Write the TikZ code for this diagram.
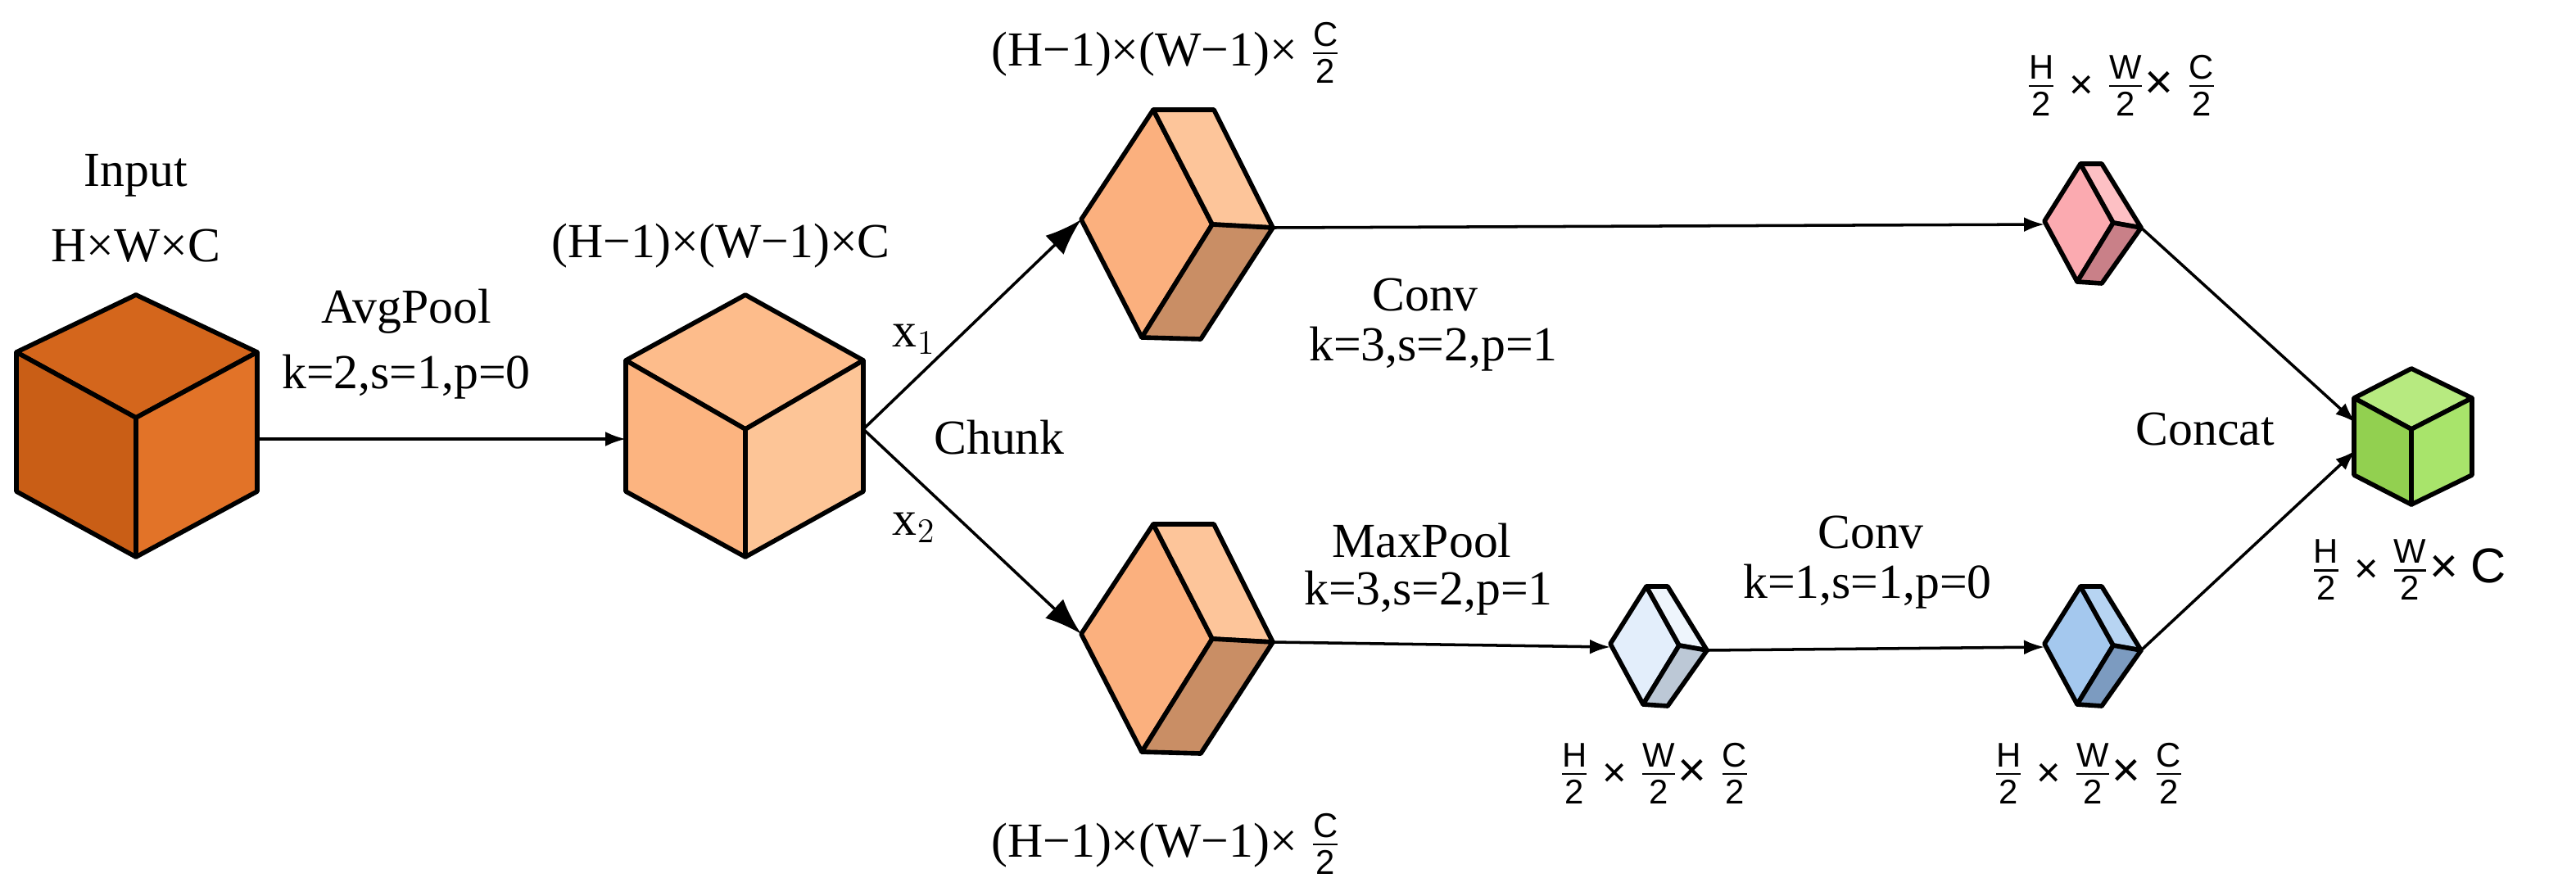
\documentclass[tikz,border=0pt]{standalone}
\usepackage{amsmath}
\usepackage{fontspec}
\setmainfont{Liberation Serif}
\newfontfamily\fr{Liberation Sans}
\usetikzlibrary{arrows.meta}
\newcommand{\fs}[1]{\ensuremath{\frac{\text{\fr #1}}{\text{\fr 2}}}}
\tikzset{
  face/.style={draw=black,line width=1.6pt,line join=round},
  lbl/.style={font=\fontsize{17}{20}\selectfont,inner sep=1pt},
  arr/.style={-{Latex[length=0.25cm,width=0.18cm]},line width=1pt},
  bigarr/.style={-{Latex[length=0.45cm,width=0.32cm]},line width=1pt},
  ln/.style={line width=1pt}
}
% cube: #1 top, #2 UL, #3 UR, #4 centre, #5 LL, #6 bottom, #7 LR, colours #8 top, #9 left, #10 right
\newcommand{\mycube}[7]{%
  \fill[#5] #1 -- #2 -- #3 -- #4 -- cycle;
  \filldraw[face,fill=#6] #2 -- #3 -- ++(0,0) ;}
\begin{document}
\begin{tikzpicture}[x=0.02cm,y=-0.02cm]
\useasboundingbox (0,0) rectangle (1572.5,546.5);
% Input cube
\filldraw[face,fill=orange!0!black!0,fill={rgb,255:red,212;green,102;blue,28}] (83,180)--(10,215)--(83,255)--(157,215)--cycle;
\filldraw[face,fill={rgb,255:red,201;green,94;blue,22}] (10,215)--(83,255)--(83,340)--(10,300)--cycle;
\filldraw[face,fill={rgb,255:red,226;green,115;blue,40}] (157,215)--(83,255)--(83,340)--(157,300)--cycle;
\coordinate (in) at (157,268);
% cube 2
\filldraw[face,fill={rgb,255:red,253;green,188;blue,139}] (455,180)--(382,220)--(455,262)--(527,220)--cycle;
\filldraw[face,fill={rgb,255:red,252;green,180;blue,128}] (382,220)--(455,262)--(455,340)--(382,300)--cycle;
\filldraw[face,fill={rgb,255:red,253;green,197;blue,151}] (527,220)--(455,262)--(455,340)--(527,300)--cycle;
\coordinate (c2l) at (382,268);
\coordinate (c2r) at (527,262);
% thin boxes
\foreach \dy/\nm in {0/u,253/d}{
\begin{scope}[yshift=-\dy*0.02cm]
\filldraw[face,fill={rgb,255:red,251;green,176;blue,126}] (704,67)--(740,137)--(697,206)--(660,134)--cycle;
\filldraw[face,fill={rgb,255:red,253;green,197;blue,154}] (704,67)--(741,67)--(777,139)--(740,137)--cycle;
\filldraw[face,fill={rgb,255:red,201;green,142;blue,101}] (740,137)--(777,139)--(733,207)--(697,206)--cycle;
\coordinate (\nm l) at (660,134);
\coordinate (\nm r) at (777,139);
\end{scope}}
% small boxes: pink, light blue, blue
\foreach \sx/\sy/\cf/\ct/\cb/\nm in {265/-258/{251,170,176}/{253,192,196}/{201,128,136}/p,0/0/{227,238,251}/{238,245,252}/{188,200,214}/a,265/0/{164,200,238}/{183,212,242}/{124,155,192}/b}{
\begin{scope}[xshift=\sx*0.02cm,yshift=-\sy*0.02cm]
\definecolor{cf}{RGB}{\cf}\definecolor{ct}{RGB}{\ct}\definecolor{cb}{RGB}{\cb}
\filldraw[face,fill=cf] (1005,358)--(1025,394)--(1003,430)--(983,393)--cycle;
\filldraw[face,fill=ct] (1005,358)--(1018,358)--(1042,397)--(1025,394)--cycle;
\filldraw[face,fill=cb] (1025,394)--(1042,397)--(1018,431)--(1003,430)--cycle;
\coordinate (\nm l) at (983,395);
\coordinate (\nm r) at (1042,397);
\end{scope}}
% green cube
\filldraw[face,fill={rgb,255:red,183;green,234;blue,128}] (1472,225)--(1437,243)--(1472,262)--(1509,243)--cycle;
\filldraw[face,fill={rgb,255:red,146;green,208;blue,80}] (1437,243)--(1472,262)--(1472,308)--(1437,290)--cycle;
\filldraw[face,fill={rgb,255:red,168;green,228;blue,107}] (1509,243)--(1472,262)--(1472,308)--(1509,290)--cycle;
\coordinate (g1) at (1438,258);
\coordinate (g2) at (1438,275);
% connectors
\draw[arr] (in) -- (c2l);
\draw[bigarr] (c2r) -- (ul);
\draw[bigarr] (c2r) -- (dl);
\draw[arr] (ur) -- (pl);
\draw[arr] (dr) -- (al);
\draw[arr] (ar) -- (bl);
\draw[arr] (pr) -- (g1);
\draw[arr] (br) -- (g2);
% labels
\node[lbl] (t1) at (83,107) {Input};
\node[lbl] (t2) at (83,150) {H×W×C};
\node[lbl] (t3) at (248,190) {AvgPool};
\node[lbl] (t4) at (248,230) {k=2,s=1,p=0};
\node[lbl] (t5) at (440,150) {(H−1)×(W−1)×C};
\node[lbl] (t6) at (558,207) {x$_1$};
\node[lbl] (t7) at (558,322) {x$_2$};
\node[lbl] (t8) at (610,267) {Chunk};
\node[lbl] (t9) at (712,32) {(H−1)×(W−1)× \fs{C}};
\node[lbl] (t10) at (712,515) {(H−1)×(W−1)× \fs{C}};
\node[lbl] (t11) at (870,180) {Conv};
\node[lbl] (t12) at (875,213) {k=3,s=2,p=1};
\node[lbl] (t13) at (868,330) {MaxPool};
\node[lbl] (t14) at (872,362) {k=3,s=2,p=1};
\node[lbl] (t15) at (1142,325) {Conv};
\node[lbl] (t16) at (1140,358) {k=1,s=1,p=0};
\node[lbl] (t17) at (1346,262) {Concat};
\node[lbl] (t18) at (1295,52) {\fs{H} {\fr\Large×} \fs{W}{\fr×} \fs{C}};
\node[lbl] (t19) at (1010,472) {\fs{H} {\fr\Large×} \fs{W}{\fr×} \fs{C}};
\node[lbl] (t20) at (1275,472) {\fs{H} {\fr\Large×} \fs{W}{\fr×} \fs{C}};
\node[lbl] (t21) at (1470,348) {\fs{H} {\fr\Large×} \fs{W}{\fr×} {\fr C}};
\end{tikzpicture}
\end{document}
